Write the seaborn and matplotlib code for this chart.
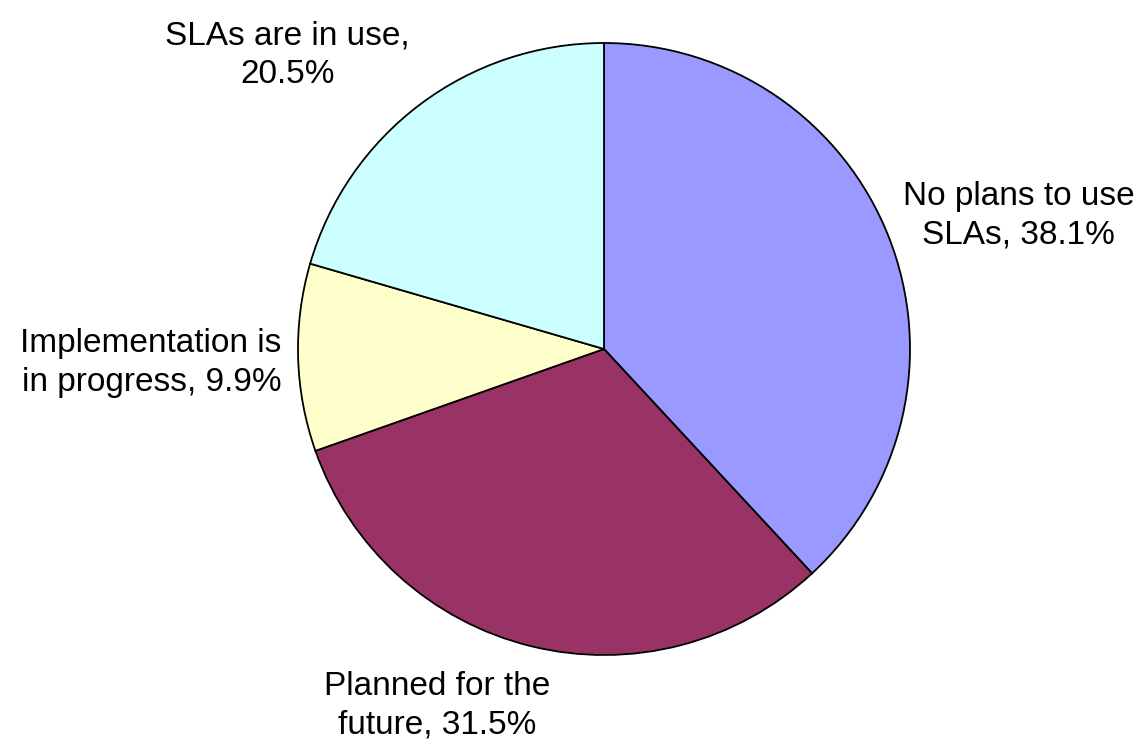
import matplotlib
matplotlib.use("Agg")
import matplotlib.pyplot as plt
import seaborn as sns
import numpy as np

sns.set_theme(style="white")
plt.rcParams['font.family'] = ['Liberation Sans', 'DejaVu Sans']

categories = ["No plans to use\nSLAs", "Planned for the\nfuture", "Implementation is\nin progress", "SLAs are in use,\n"]
values = [38.1, 31.5, 9.9, 20.5]
colors = ["#9999FF", "#993366", "#FFFFCC", "#CCFFFF"]

fig = plt.figure(figsize=(11.42, 7.45), dpi=100)
W, H = 1142, 745
cx, cy, r = 604, 349, 306
ax = fig.add_axes([(cx - r) / W, (H - cy - r) / H, 2 * r / W, 2 * r / H])
wedges, _ = ax.pie(values, colors=colors, startangle=90, counterclock=False,
                   radius=1.0, wedgeprops=dict(edgecolor="black", linewidth=1.3))
ax.set_xlim(-1, 1)
ax.set_ylim(-1, 1)
ax.set_aspect("equal")
ax.axis("off")

def label(i):
    c = categories[i]
    if c.endswith("\n"):
        return f"{c}{values[i]}%"
    return f"{c}, {values[i]}%"

# label placements (data units relative to pie radius)
placements = [
    (1.355, 0.435, "center"),
    (-0.545, -1.165, "center"),
    (-1.055, -0.045, "right"),
    (-1.035, 0.96, "center"),
]
for i, (x, y, ha) in enumerate(placements):
    ax.text(x, y, label(i), ha=ha, va="center", fontsize=24,
            linespacing=1.32, color="black", clip_on=False)

fig.savefig("out.png", dpi=100, facecolor="white")
